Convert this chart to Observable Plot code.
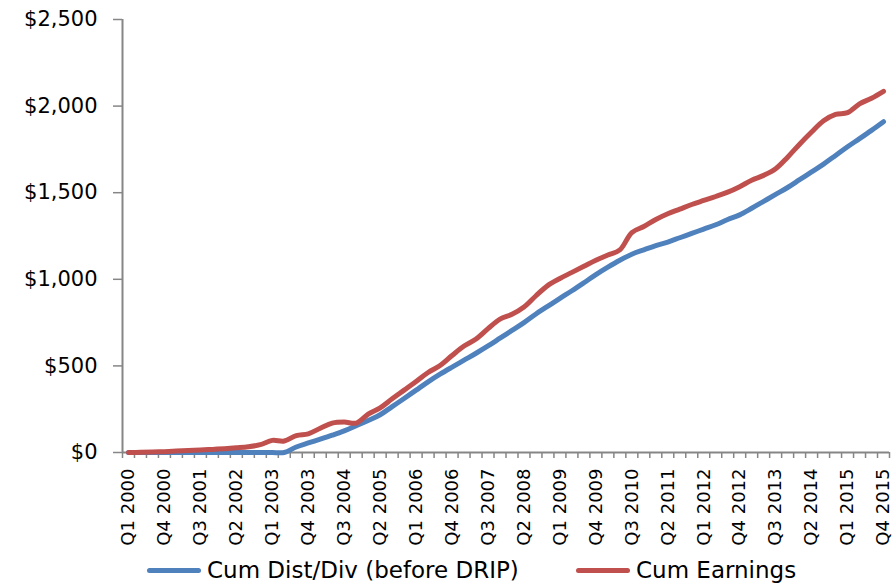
<!DOCTYPE html>
<html><head><meta charset="utf-8">
<script src="https://cdn.jsdelivr.net/npm/d3@7"></script>
<script src="https://cdn.jsdelivr.net/npm/@observablehq/plot@0.6"></script>
<style>
body{margin:0;background:#fff;}
#chart{width:893px;height:585px;position:relative;overflow:hidden;background:#fff}
.legend{position:absolute;left:0;top:552px;width:893px;height:36px;font-family:"DejaVu Sans";font-size:23px;color:#000}
.item{position:absolute;top:0;display:flex;align-items:center;height:36px;white-space:nowrap}
.sw{width:54px;height:5px;border-radius:3px;margin-right:6px}
</style></head><body><div id="chart"></div>
<script>
const tickLabels = ["Q1 2000","Q4 2000","Q3 2001","Q2 2002","Q1 2003","Q4 2003","Q3 2004","Q2 2005","Q1 2006","Q4 2006","Q3 2007","Q2 2008","Q1 2009","Q4 2009","Q3 2010","Q2 2011","Q1 2012","Q4 2012","Q3 2013","Q2 2014","Q1 2015","Q4 2015"];
const seriesNames = ["Cum Dist/Div (before DRIP)", "Cum Earnings"];
const seriesColors = ["#4F81BD", "#C0504D"];
const cumDist = [0,0,0,0,0,0,0,0,0,0,0,0,0,0,32,55,77,100,125,155,185,218,265,312,360,408,452,493,533,573,615,660,705,750,800,845,890,934,980,1027,1070,1110,1145,1170,1195,1215,1240,1265,1290,1315,1345,1372,1410,1450,1490,1530,1575,1620,1665,1715,1765,1812,1860,1910];
const cumEarnings = [0,1,3,5,8,11,14,18,22,27,33,45,70,66,98,108,140,170,176,170,222,258,310,360,410,462,502,560,615,655,715,770,798,840,905,965,1005,1040,1075,1110,1140,1170,1270,1305,1345,1378,1405,1432,1455,1478,1503,1535,1572,1600,1638,1705,1780,1850,1915,1952,1962,2013,2045,2085];
const yTicks = [0,500,1000,1500,2000,2500];

const rows = [];
[cumDist, cumEarnings].forEach((arr, s) => arr.forEach((v, i) => rows.push({i, v, series: seriesNames[s]})));
const labelIdx = tickLabels.map((_, k) => k * 3);
const boundaries = d3.range(cumDist.length + 1).map(k => k - 0.5);

const W = 893, H = 552, axisY0 = 452;
const plot = Plot.plot({
  width: W, height: H,
  marginLeft: 122, marginRight: 4, marginTop: 19, marginBottom: H - axisY0,
  x: {type: "linear", domain: [-0.5, cumDist.length - 0.5], label: null},
  y: {domain: [0, 2500], label: null},
  color: {domain: seriesNames, range: seriesColors},
  style: {fontFamily: "DejaVu Sans", background: "white", color: "#000", overflow: "visible"},
  marks: [
    Plot.axisY({ticks: yTicks, tickFormat: d => "$" + d3.format(",")(d), tickSize: 9, tickPadding: 16, fontSize: 21, stroke: "#868686", strokeWidth: 1.5, fill: "#000", label: null}),
    Plot.axisX({ticks: boundaries, tickFormat: () => "", tickSize: 6, stroke: "#868686", strokeWidth: 1.5, label: null}),
    Plot.axisX({ticks: labelIdx, tickFormat: i => tickLabels[i / 3], tickSize: 0, tickPadding: 16, tickRotate: -90, fontSize: 18, fill: "#000", label: null}),
    Plot.ruleX([-0.5], {stroke: "#868686", strokeWidth: 2}),
    Plot.ruleY([0], {stroke: "#868686", strokeWidth: 2}),
    Plot.line(rows, {x: "i", y: "v", z: "series", stroke: "series", curve: "catmull-rom", strokeWidth: 5, strokeLinecap: "round", strokeLinejoin: "round"})
  ]
});
const chart = document.getElementById("chart");
chart.appendChild(plot);

const legend = document.createElement("div");
legend.className = "legend";
const lefts = [147, 576];
seriesNames.forEach((name, s) => {
  const item = document.createElement("div");
  item.className = "item";
  item.style.left = lefts[s] + "px";
  const sw = document.createElement("span");
  sw.className = "sw";
  sw.style.background = seriesColors[s];
  const t = document.createElement("span");
  t.textContent = name;
  item.appendChild(sw); item.appendChild(t);
  legend.appendChild(item);
});
chart.appendChild(legend);
</script></body></html>
